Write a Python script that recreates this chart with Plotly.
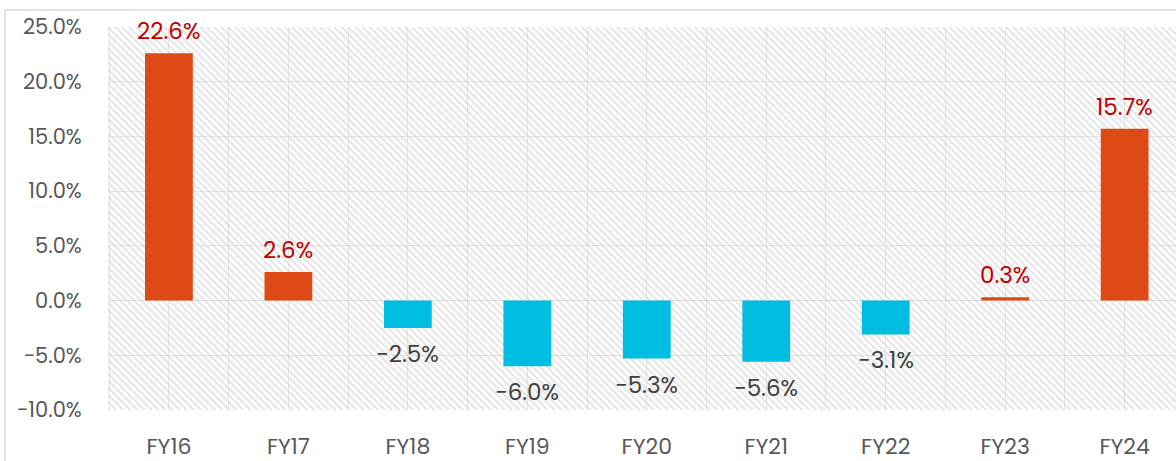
import plotly.graph_objects as go

categories = ["FY16", "FY17", "FY18", "FY19", "FY20", "FY21", "FY22", "FY23", "FY24"]
growth = [22.6, 2.6, -2.5, -6.0, -5.3, -5.6, -3.1, 0.3, 15.7]
y_ticks = [-10, -5, 0, 5, 10, 15, 20, 25]

POS = "#DE4A15"
NEG = "#00BDE2"
POS_TXT = "#C00000"
NEG_TXT = "#404040"
FONT = "Poppins, Inter, sans-serif"

W, H = 1176, 461
L, R, T, B = 108, 0, 27, 51
pw, ph = W - L - R, H - T - B

x_lo, x_hi = -0.51, 8.43
y_lo, y_hi = -10, 25

xs = list(range(len(categories)))


def fmt(v):
    s = f"{v:.1f}%"
    return s.replace("-", "\u2212")


fig = go.Figure()

# hatched plot-area background (bar layer, drawn beneath the data bars)
fig.add_trace(go.Bar(
    x=[(x_lo + x_hi) / 2], y=[y_hi - y_lo], base=[y_lo], width=[x_hi - x_lo],
    marker=dict(color="rgba(0,0,0,0)", line=dict(width=0),
                pattern=dict(shape="\\", fgcolor="#cdcdcd", bgcolor="rgba(0,0,0,0)",
                             size=5, solidity=0.42, fillmode="overlay")),
    hoverinfo="skip", showlegend=False,
))

fig.add_trace(go.Bar(
    x=xs, y=growth, width=0.4,
    marker=dict(color=[POS if v >= 0 else NEG for v in growth], line=dict(width=0)),
    hoverinfo="skip", showlegend=False,
))

for x, v in zip(xs, growth):
    fig.add_annotation(
        x=x, y=v, text=fmt(v),
        showarrow=False,
        yanchor="bottom" if v >= 0 else "top",
        yshift=4 if v >= 0 else -8,
        font=dict(family=FONT, size=23, color=POS_TXT if v >= 0 else NEG_TXT),
    )

grid_vals = [i * 0.5 - 0.5 for i in range(2 * len(categories) + 1)]
grid_text = [categories[int(v)] if float(v).is_integer() else "" for v in grid_vals]

fig.update_layout(
    width=W, height=H,
    margin=dict(l=L, r=R, t=T, b=B, autoexpand=False),
    paper_bgcolor="white", plot_bgcolor="white",
    barmode="overlay",
    xaxis=dict(
        range=[x_lo, x_hi], tickmode="array", tickvals=grid_vals, ticktext=grid_text,
        showgrid=True, gridcolor="#e6e6e6", gridwidth=1, zeroline=False,
        ticks="outside", ticklen=17, tickcolor="rgba(0,0,0,0)",
        tickfont=dict(family=FONT, size=22, color="#595959"),
        showline=False, fixedrange=True, automargin=False,
    ),
    yaxis=dict(
        range=[y_lo, y_hi], tickmode="array", tickvals=y_ticks,
        ticktext=[fmt(v) for v in y_ticks],
        showgrid=True, gridcolor="#e6e6e6", gridwidth=1,
        zeroline=True, zerolinecolor="#e0e0e0", zerolinewidth=1,
        ticks="outside", ticklen=21, tickcolor="rgba(0,0,0,0)",
        tickfont=dict(family=FONT, size=21, color="#595959"),
        showline=False, fixedrange=True, automargin=False,
    ),
)

# outer chart border (top and left edges visible in the crop)
bx = (5 - L) / pw
by = (H - B - 10) / ph
fig.add_shape(type="line", xref="paper", yref="paper", x0=bx, x1=1.05, y0=by, y1=by,
              line=dict(color="#d9d9d9", width=1.5))
fig.add_shape(type="line", xref="paper", yref="paper", x0=bx, x1=bx, y0=by, y1=-0.3,
              line=dict(color="#d9d9d9", width=1.5))

fig.write_html(
    "out.html",
    config={"displayModeBar": False, "staticPlot": True},
    post_script="document.body.style.margin='0';document.body.style.overflow='hidden';",
)
